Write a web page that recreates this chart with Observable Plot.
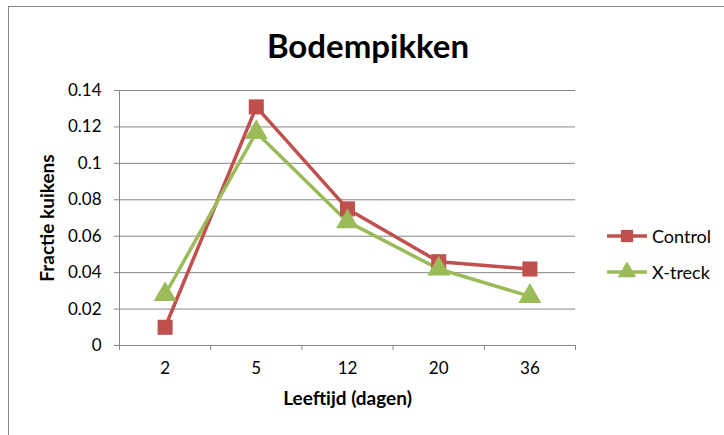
<!DOCTYPE html>
<html>
<head>
<meta charset="utf-8">
<script src="https://cdn.jsdelivr.net/npm/d3@7"></script>
<script src="https://cdn.jsdelivr.net/npm/@observablehq/plot@0.6"></script>
<style>
  html, body { margin: 0; padding: 0; background: #fff; }
  #wrap { position: relative; width: 724px; height: 435px; overflow: hidden; font-family: Lato, "Open Sans", sans-serif; }
  #border { position: absolute; left: 8px; top: 6px; width: 740px; height: 460px; border-left: 1.5px solid #868686; border-top: 1.5px solid #868686; box-sizing: border-box; }
  #title { position: absolute; left: 0; width: 724px; top: 25px; text-align: center; font-size: 33px; font-weight: 700; color: #000; margin-left: 6px; }
  #legend { position: absolute; left: 605px; top: 218px; font-size: 18px; color: #000; }
  .row { display: flex; align-items: center; height: 36px; }
  .row svg { margin-right: 3px; }
  #chart { position: absolute; left: 0; top: 0; }
</style>
</head>
<body>
<div id="wrap">
  <div id="border"></div>
  <div id="chart"></div>
  <div id="title">Bodempikken</div>
  <div id="legend"></div>
</div>
<script>
const categories = ["2", "5", "12", "20", "36"];
const control = [0.010, 0.131, 0.075, 0.046, 0.042];
const xtreck = [0.028, 0.117, 0.068, 0.042, 0.027];
const yTicks = [0, 0.02, 0.04, 0.06, 0.08, 0.1, 0.12, 0.14];
const seriesNames = ["Control", "X-treck"];
const colors = {"Control": "#C0504D", "X-treck": "#9BBB59"};
const symbols = {"Control": "square", "X-treck": "triangle"};

const data = [];
categories.forEach((c, i) => {
  data.push({series: "Control", idx: i, cat: c, value: control[i]});
  data.push({series: "X-treck", idx: i, cat: c, value: xtreck[i]});
});

const grey = "#868686";
const fmt = d => String(+d.toFixed(2));
const xPos = d => d.idx + 0.5;

const chart = Plot.plot({
  width: 724,
  height: 435,
  marginLeft: 119,
  marginRight: 149,
  marginTop: 90,
  marginBottom: 90,
  style: {fontFamily: "Lato, 'Open Sans', sans-serif", fontSize: "17px", color: "#000", background: "transparent"},
  x: {type: "linear", domain: [0, categories.length], axis: null},
  y: {domain: [0, 0.14], axis: null},
  marks: [
    Plot.gridY(yTicks, {stroke: grey, strokeOpacity: 1, strokeWidth: 1}),
    Plot.axisY({ticks: yTicks, tickSize: 5, tickPadding: 13, tickFormat: fmt, stroke: grey, strokeOpacity: 1,
      fontSize: 17, fill: "#000", label: null}),
    Plot.ruleX([0], {stroke: grey, strokeWidth: 1}),
    Plot.ruleY([0], {stroke: grey, strokeWidth: 1}),
    Plot.axisX({ticks: d3.range(categories.length + 1), tickSize: 5, tickFormat: () => "", stroke: grey, strokeOpacity: 1, label: null}),
    Plot.axisX({ticks: categories.map((c, i) => i + 0.5), tickSize: 0, tickPadding: 16, tickFormat: v => categories[Math.round(v - 0.5)],
      fontSize: 17, fill: "#000", label: null}),
    Plot.text(["Leeftijd (dagen)"], {frameAnchor: "bottom", dy: 59, fontSize: 19, fontWeight: "bold", fill: "#000"}),
    Plot.text(["Fractie kuikens"], {frameAnchor: "left", dx: -72, rotate: -90, textAnchor: "middle", fontSize: 19, fontWeight: "bold", fill: "#000"}),
    Plot.line(data, {x: xPos, y: "value", z: "series", stroke: d => colors[d.series], strokeWidth: 3.5}),
    Plot.dot(data, {x: xPos, y: "value", symbol: d => symbols[d.series], fill: d => colors[d.series], r: 8.5, stroke: "none"})
  ]
});
document.getElementById("chart").appendChild(chart);

// Legend
const legend = d3.select("#legend");
seriesNames.forEach(name => {
  const row = legend.append("div").attr("class", "row");
  const svg = row.append("svg").attr("width", 44).attr("height", 20);
  svg.append("line").attr("x1", 2).attr("x2", 42).attr("y1", 10).attr("y2", 10)
    .attr("stroke", colors[name]).attr("stroke-width", 3.5);
  const sym = name === "Control" ? d3.symbolSquare : d3.symbolTriangle;
  svg.append("path").attr("d", d3.symbol(sym, 150)()).attr("transform", "translate(22,10)").attr("fill", colors[name]);
  row.append("span").text(name);
});
</script>
</body>
</html>
